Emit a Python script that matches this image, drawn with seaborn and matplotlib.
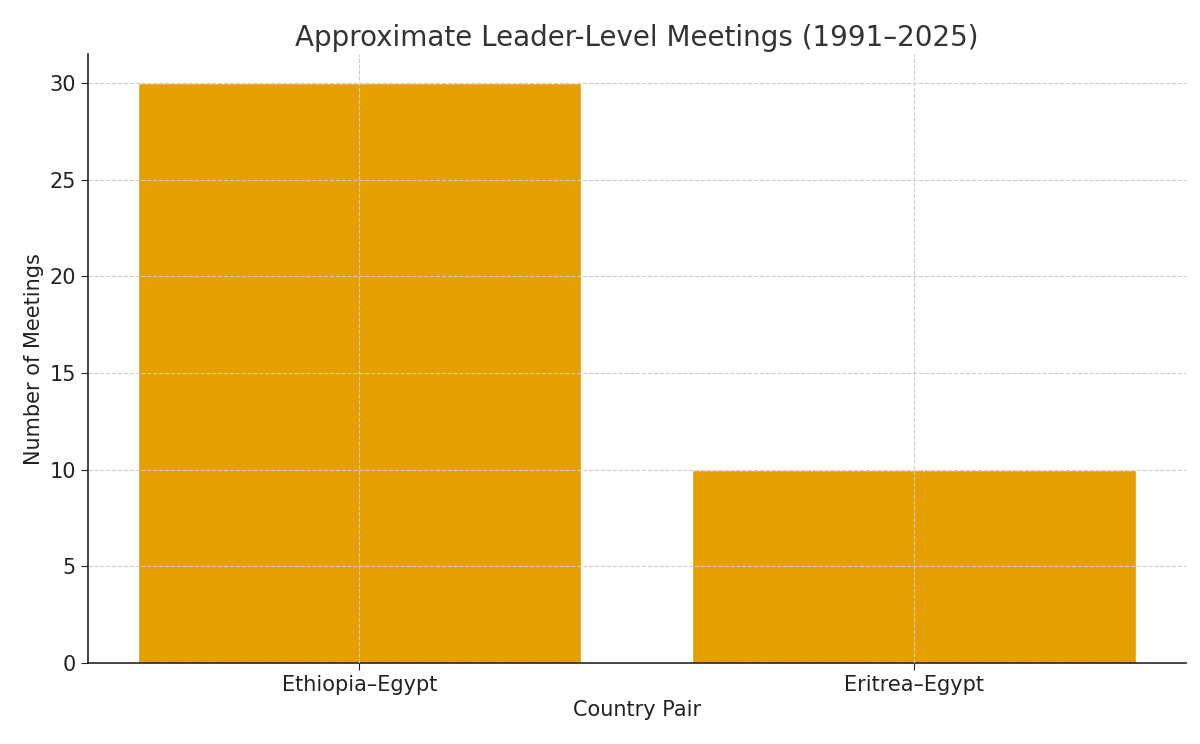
import matplotlib
matplotlib.use("Agg")
import matplotlib.pyplot as plt
import seaborn as sns
import pandas as pd

pairs = ["Ethiopia–Egypt", "Eritrea–Egypt"]
meetings = [30, 10]

sns.set_style("whitegrid")
plt.rcParams['font.family'] = ['DejaVu Sans']
df = pd.DataFrame({"pair": pairs, "meetings": meetings})

fig = plt.figure(figsize=(12, 7.44), dpi=100)
ax = fig.add_axes([0.073, 0.109, 0.915, 0.818])
sns.barplot(data=df, x="pair", y="meetings", color="#E69F00", saturation=1, width=0.8, ax=ax, zorder=2)
ax.set_xlim(-0.49, 1.49)
ax.set_ylim(0, 31.5)
ax.grid(True, linestyle="--", color="#cccccc", linewidth=0.8, zorder=3)
ax.set_axisbelow(False)
for s in ["top", "right"]:
    ax.spines[s].set_visible(False)
for s in ["left", "bottom"]:
    ax.spines[s].set_color("#222222")
    ax.spines[s].set_linewidth(1.2)
ax.tick_params(axis="both", labelsize=15, colors="#222222", length=5, left=True, bottom=True)
ax.set_title("Approximate Leader-Level Meetings (1991–2025)", fontsize=20, color="#333333")
ax.set_xlabel("Country Pair", fontsize=15, color="#222222")
ax.set_ylabel("Number of Meetings", fontsize=15, color="#222222")
fig.savefig("out.png", dpi=100)
